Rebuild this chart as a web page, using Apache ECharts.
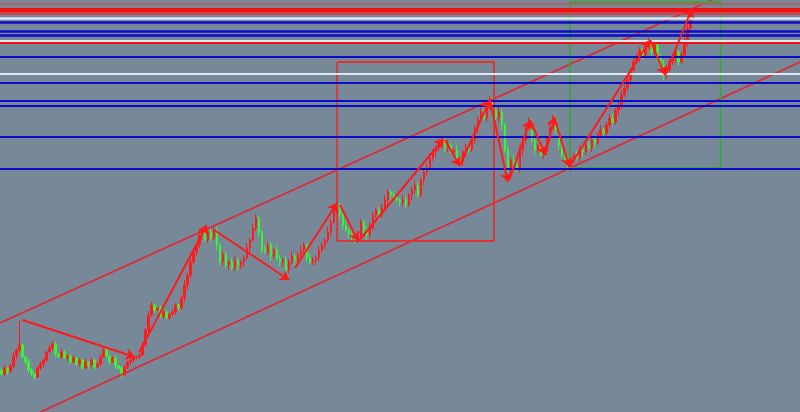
<!DOCTYPE html>
<html>
<head>
<meta charset="utf-8">
<script src="https://cdn.jsdelivr.net/npm/echarts@6/dist/echarts.min.js"></script>
<style>html,body{margin:0;padding:0;background:#778899;}#c{width:800px;height:412px;}</style>
</head>
<body>
<div id="c"></div>
<script>
// ---- data ----
const barCount = 267;            // slots on the time axis
const firstOpen = 42;
const closes = [
 38,44,40,46,56,62,67,55,50,42,38,35,44,48,52,60,64,68,58,55,60,54,56,50,54,48,52,44,50,47,52,45,48,55,62,56,50,54,46,44,37,45,50,52,54,55,57,67,82,97,107,
 102,104,96,100,94,98,100,107,104,114,
 127,137,150,160,167,177,179,172,180,174,182,
 167,150,157,147,150,144,152,146,150,154,
 164,172,184,194,180,162,
 160,167,156,162,154,150,152,142,
 150,156,152,157,162,167,
 154,150,152,154,162,167,172,180,190,202,
 207,197,187,182,178,174,172,177,
 190,182,177,184,197,202,197,204,212,220,217,214,
 212,210,212,207,217,222,227,217,232,240,244,
 254,260,264,270,272,264,267,260,262,254,250,
 260,264,262,272,284,292,300,294,308,312,302,294,300,
 287,262,242,252,247,242,262,272,284,290,
 272,262,267,257,262,274,284,292,282,267,257,250,245,
 252,257,254,262,260,267,264,272,269,277,282,279,287,294,290,
 302,307,317,324,332,342,350,354,362,357,367,370,
 360,367,354,347,337,342,350,354,360,350,357,370,384,397
];
const upWick = [
 2,3,1,2,4,2,25,2,1,3, 2,1,2,3,2,1,3,4,2,1, 3,2,1,2,3,1,2,2,3,1, 2,1,2,3,4,2,1,2,3,1,
 2,2,1,3,2,1,2,3,2,4, 3,2,1,3,2,2,1,3,2,1,
 3,5,2,4,3,2,5,3,2,4, 5,4,3,2,4,3,2,4,5,2, 2,3,5,2,4,4,3,2,5,3, 3,2,5,3,2,4,3,5,2,3,
 4,3,2,5,3,2,4,3,2,5, 3,4,4,2,3,5,2,3,2,4, 3,2,4,5,3,2,3,4,5,3, 2,4,3,2,5,3,2,4,5,3,
 3,2,4,5,3,2,4,4,3,5, 3,2,5,3,2,4,5,2,3,4, 5,3,3,4,3,2,5,3,2,4, 3,5,2,4,3,2,5,3,4,2,
 5,3,2,4,5,4,3,2,4,5, 3,2,4,5,2,3,4,5,2,3, 5,2,3,4,5,2,3,5,3,4, 2,4,5,3,2,5,4,3,5,2,
 4,5,2,3,4,5,2,3,5,4, 5
];
const downWick = [
 1,2,3,1,2,3,2,1,2,3, 2,3,1,2,3,2,1,2,3,1, 2,1,3,2,1,2,3,2,1,4, 2,3,1,2,1,2,3,1,3,2,
 4,1,2,3,2,1,2,1,2,3, 2,3,1,2,3,1,2,2,3,2,
 2,4,5,3,2,4,3,5,2,3, 4,2,5,3,4,3,5,2,3,5, 3,5,2,4,2,3,5,4,2,3, 5,3,2,4,5,4,3,2,5,3,
 3,5,4,2,3,5,3,2,4,3, 5,2,3,4,5,2,4,5,4,3, 2,3,5,4,2,3,5,3,2,4, 5,3,2,4,5,3,2,5,4,2,
 3,5,4,2,3,5,3,2,5,4, 2,4,5,3,4,5,3,2,4,5, 3,2,4,5,3,2,4,5,3,2, 4,5,2,3,5,4,2,3,5,3,
 2,4,5,3,2,4,5,3,2,4, 5,3,2,4,5,3,2,4,5,2, 3,2,5,4,2,3,5,4,2,3, 5,3,2,4,5,3,2,5,4,3,
 2,5,4,2,3,5,4,2,3,5, 3
];
// horizontal levels (price)
const redLevels = [408.5, 402, 398.5, 369];
const whiteLevels = [393.5, 371, 338];
const blueLevels = [389.5, 380.5, 376.5, 355, 329, 311, 306, 275, 243];
// channel lines [bar, price]
const upperChannel = [[-0.5, 89], [237, 412]];
const lowerChannel = [[13, 0], [266.5, 350]];
// boxes [bar1, price1, bar2, price2]
const redBox = [112, 350, 164.4, 171];
const greenBox = [189.7, 410, 240, 244];
// zigzag arrows [fromBar, fromPrice, toBar, toPrice]
const arrows = [
 [7, 92, 44.5, 55],
 [46, 60, 68.5, 187],
 [71, 182, 96, 132],
 [98, 144, 112, 209],
 [113, 207, 119, 171],
 [119.5, 172, 147.5, 273],
 [148, 272, 153, 246],
 [153, 247, 163, 312],
 [163, 312, 169, 230],
 [169.5, 232, 176.5, 292],
 [176.5, 292, 181.5, 257],
 [181.5, 257, 184.5, 295],
 [184.5, 295, 189.5, 245],
 [189.5, 245, 216.5, 372],
 [216.5, 372, 221.5, 337],
 [221.5, 337, 230.5, 404]
];

// ---- build ----
const cats = [];
for (let i = 0; i < barCount; i++) cats.push(String(i));
const ohlc = closes.map((c, i) => {
  const o = i === 0 ? firstOpen : closes[i - 1];
  return [o, c, Math.min(o, c) - downWick[i], Math.max(o, c) + upWick[i]];
});
function boxPoly(b) {
  return [[b[0], b[1]], [b[2], b[1]], [b[2], b[3]], [b[0], b[3]], [b[0], b[1]]];
}
const redStyles = [
  {color: '#c8505c', width: 1.5},
  {color: '#ee1212', width: 4},
  {color: '#dc3a46', width: 2.5},
  {color: '#ee1414', width: 2}
];
const levelLines = [];
redLevels.forEach((v, k) => levelLines.push({yAxis: v, lineStyle: Object.assign({type: 'solid'}, redStyles[k])}));
whiteLevels.forEach((v, k) => levelLines.push({yAxis: v, lineStyle: {color: '#dde9ef', width: k === 0 ? 2.5 : 2, type: 'solid'}}));
blueLevels.forEach((v, k) => levelLines.push({yAxis: v, lineStyle: {color: '#0b0bcc', width: k < 3 ? 2.5 : 2, type: 'solid'}}));

const chart = echarts.init(document.getElementById('c'), null, {renderer: 'canvas'});
chart.setOption({
  animation: false,
  backgroundColor: '#778899',
  grid: {left: 0, right: 0, top: 0, bottom: 0},
  xAxis: [
    {type: 'category', data: cats, boundaryGap: true, show: false},
    {type: 'value', min: -0.5, max: barCount - 0.5, show: false}
  ],
  yAxis: {type: 'value', min: 0, max: 412, show: false, splitLine: {show: false}},
  series: [
    {
      type: 'line', xAxisIndex: 1, data: [], z: 1, silent: true,
      markLine: {silent: true, symbol: ['none', 'none'], label: {show: false}, lineStyle: {type: 'solid'}, data: levelLines}
    },
    {
      type: 'candlestick', xAxisIndex: 0, data: ohlc, z: 2, barWidth: 2,
      itemStyle: {color: '#ff1c1c', color0: '#36f536', borderColor: '#ff1c1c', borderColor0: '#36f536', borderWidth: 1}
    },
    {type: 'line', xAxisIndex: 1, data: upperChannel, showSymbol: false, z: 3, lineStyle: {color: '#e02a36', width: 1.8}},
    {type: 'line', xAxisIndex: 1, data: lowerChannel, showSymbol: false, z: 3, lineStyle: {color: '#e02a36', width: 1.8}},
    {type: 'line', xAxisIndex: 1, data: boxPoly(redBox), showSymbol: false, z: 3, lineStyle: {color: '#e23434', width: 1.8}},
    {type: 'line', xAxisIndex: 1, data: boxPoly(greenBox), showSymbol: false, z: 3, lineStyle: {color: '#3ca43c', width: 1.8}},
    {
      type: 'line', xAxisIndex: 1, data: [], z: 4, silent: true,
      markLine: {
        silent: true, symbol: ['none', 'arrow'], symbolSize: 9, label: {show: false},
        lineStyle: {color: '#ff1a1a', width: 2, type: 'solid'},
        data: arrows.map(a => [{coord: [a[0], a[1]]}, {coord: [a[2], a[3]]}])
      }
    }
  ]
});
</script>
</body>
</html>
